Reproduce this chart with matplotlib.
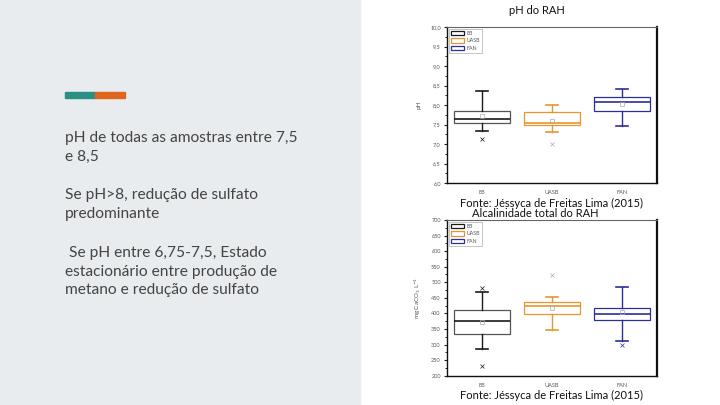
import matplotlib
matplotlib.use("Agg")
import numpy as np
import matplotlib.pyplot as plt
from matplotlib.patches import Rectangle
from matplotlib.ticker import FuncFormatter, AutoMinorLocator

plt.rcParams['font.family'] = ['Lato', 'DejaVu Sans']

# -------------------- data ----------------------------------------------
groups = ["EB", "UASB", "FAN"]
colors = ["#1a1a1a", "#e8952e", "#2b2f9a"]

# pH do RAH
ph_whislo = [7.33, 7.32, 7.46]
ph_q1     = [7.53, 7.49, 7.85]
ph_med    = [7.63, 7.54, 8.07]
ph_q3     = [7.85, 7.83, 8.20]
ph_whishi = [8.37, 8.00, 8.40]
ph_mean   = [7.72, 7.60, 8.03]
ph_fliers = [[7.13], [7.00], []]

# Alcalinidade total do RAH (mg CaCO3/L)
alc_whislo = [286, 348, 313]
alc_q1     = [335, 397, 380]
alc_med    = [377, 425, 398]
alc_q3     = [411, 437, 419]
alc_whishi = [468, 453, 486]
alc_mean   = [372, 418, 403]
alc_fliers = [[231, 483], [523], [300]]

bullets = ["pH de todas as amostras entre 7,5\ne 8,5",
           "Se pH>8, redução de sulfato\npredominante",
           " Se pH entre 6,75-7,5, Estado\nestacionário entre produção de\nmetano e redução de sulfato"]
fonte = "Fonte: Jéssyca de Freitas Lima (2015)"

# -------------------- figure --------------------------------------------
fig = plt.figure(figsize=(7.2, 4.05), dpi=100)
fig.patches.append(Rectangle((0, 0), 0.5, 1, transform=fig.transFigure,
                             color="#e9ecee", zorder=-10))
# accent bar
fig.patches.append(Rectangle((65/720, 1-97.5/405), 30/720, 5/405, transform=fig.transFigure,
                             color="#2a9086", zorder=1))
fig.patches.append(Rectangle((95/720, 1-97.5/405), 30/720, 5/405, transform=fig.transFigure,
                             color="#e0651e", zorder=1))

ys = [1-131/405, 1-188/405, 1-246/405]
for t, y in zip(bullets, ys):
    fig.text(65/720, y, t, fontsize=11.2, color="#444444", va="top", ha="left",
             linespacing=1.42)


def boxchart(rect, whislo, q1, med, q3, whishi, mean, fliers, ylim, step, fmt, ylabel):
    ax = fig.add_axes(rect)
    stats = []
    for i in range(len(groups)):
        stats.append(dict(whislo=whislo[i], q1=q1[i], med=med[i], q3=q3[i],
                          whishi=whishi[i], mean=mean[i], fliers=fliers[i]))
    b = ax.bxp(stats, positions=[1, 2, 3], widths=0.8, showmeans=True,
               patch_artist=True, manage_ticks=False)
    for i, c in enumerate(colors):
        b['boxes'][i].set(facecolor="white", edgecolor=c if i else "#555555", linewidth=0.9)
        b['medians'][i].set(color=c, linewidth=1.2)
        for w in b['whiskers'][2*i:2*i+2]:
            w.set(color=c, linewidth=1.0)
        for cp in b['caps'][2*i:2*i+2]:
            cp.set(color=c, linewidth=1.2, xdata=[i+1-0.08, i+1+0.08])
        b['means'][i].set(marker="s", markersize=2.5, markerfacecolor="none",
                          markeredgecolor="#aaaaaa", markeredgewidth=0.5)
        b['fliers'][i].set(marker="x", markersize=2.5, markeredgecolor=c if i != 1 else "#aaaaaa",
                           markeredgewidth=0.5)
    ax.set_xlim(0.5, 3.5)
    ax.set_ylim(*ylim)
    ax.set_yticks(np.arange(ylim[0], ylim[1] + step/2, step))
    ax.yaxis.set_major_formatter(FuncFormatter(fmt))
    ax.yaxis.set_minor_locator(AutoMinorLocator(2))
    ax.set_xticks([1, 2, 3])
    ax.set_xticklabels(groups)
    ax.tick_params(axis="both", labelsize=4, colors="#222222", labelcolor="#555555",
                   length=2.5, width=0.8, direction="out", pad=2)
    ax.tick_params(axis="y", which="minor", length=1.5, width=0.6)
    ax.tick_params(axis="x", length=0, pad=5)
    ax.spines['left'].set(color="#111111", linewidth=1.0)
    ax.spines['bottom'].set(color="#111111", linewidth=1.0)
    ax.spines['top'].set(color="#666666", linewidth=0.8)
    ax.spines['right'].set(color="#111111", linewidth=1.6)
    ax.set_ylabel(ylabel, fontsize=4.5, color="#555555", labelpad=6)
    handles = [Rectangle((0, 0), 1, 1, facecolor="white", edgecolor=c, linewidth=0.9)
               for c in colors]
    leg = ax.legend(handles, groups, loc="upper left", fontsize=3.8, frameon=True,
                    fancybox=False, edgecolor="#999999", handlelength=2.6,
                    handleheight=0.9, borderpad=0.4, labelspacing=0.5,
                    borderaxespad=0.3, handletextpad=0.4)
    leg.get_frame().set_linewidth(0.5)
    for t in leg.get_texts():
        t.set_color("#555555")
    return ax


boxchart([447/720, 1-183/405, 210/720, 156/405],
         ph_whislo, ph_q1, ph_med, ph_q3, ph_whishi, ph_mean, ph_fliers,
         (6.0, 10.0), 0.5, lambda v, p: f"{v:.1f}".replace(".", ","), "pH")
boxchart([447/720, 1-375.7/405, 210/720, 155.7/405],
         alc_whislo, alc_q1, alc_med, alc_q3, alc_whishi, alc_mean, alc_fliers,
         (200, 700), 50, lambda v, p: f"{v:.0f}", r"mg CaCO$_3$ L$^{-1}$")

fig.text(537/720, 1-10/405, "pH do RAH", fontsize=8, ha="center", va="center", color="#111111")
fig.text(552/720, 1-203/405, fonte, fontsize=8, ha="center", va="center", color="#111111")
fig.text(535/720, 1-214/405, "Alcalinidade total do RAH", fontsize=8, ha="center",
         va="center", color="#111111")
fig.text(552/720, 1-395/405, fonte, fontsize=8, ha="center", va="center", color="#111111")

fig.savefig("out.png", dpi=100)
